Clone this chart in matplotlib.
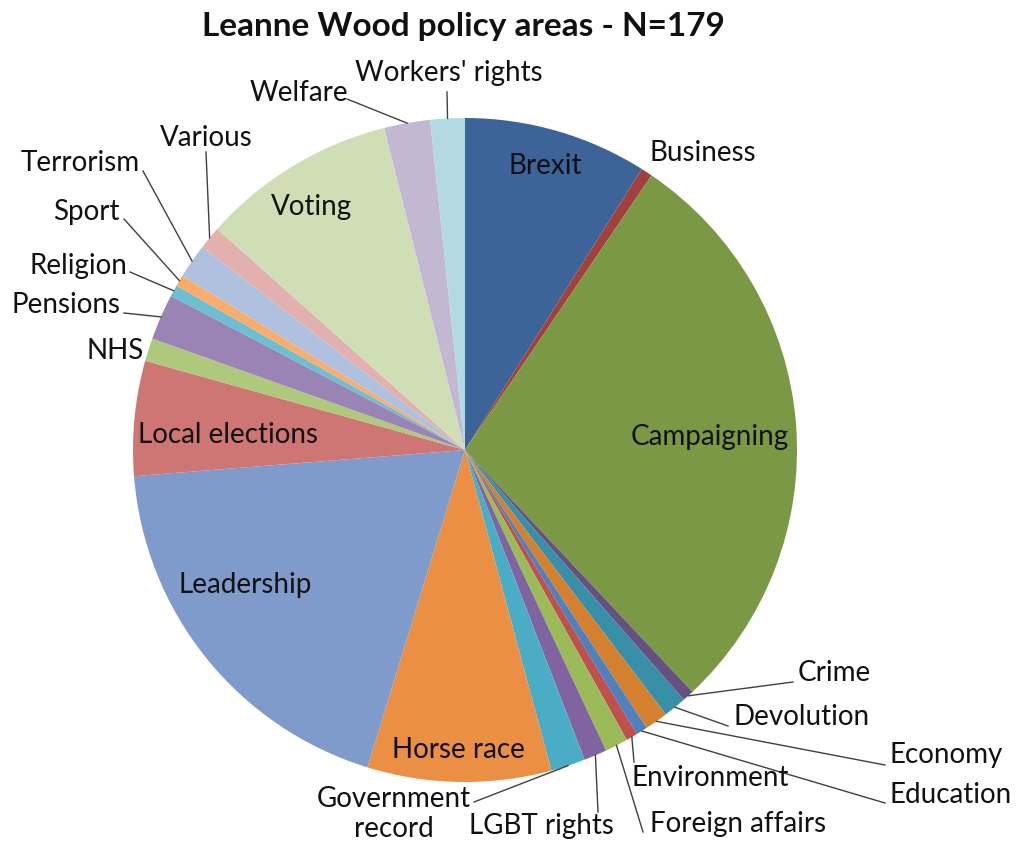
import numpy as np
import matplotlib
matplotlib.use("Agg")
import matplotlib.pyplot as plt

plt.rcParams['font.family'] = ['Lato', 'DejaVu Sans']

topics = ["Brexit", "Business", "Campaigning", "Crime", "Devolution", "Economy",
          "Education", "Environment", "Foreign affairs", "LGBT rights",
          "Government record", "Horse race", "Leadership", "Local elections",
          "NHS", "Pensions", "Religion", "Sport", "Terrorism", "Various",
          "Voting", "Welfare", "Workers' rights"]
counts = [16, 1, 51, 1, 2, 2, 1, 1, 2, 2, 3, 16, 34, 10, 2, 4, 1, 1, 3, 2, 17, 4, 3]
colors = ["#3D6498", "#A0413E", "#7B9945", "#65507F", "#3790A8", "#D4802F",
          "#4F81BD", "#C0504D", "#9BBB59", "#8064A2", "#4BACC6", "#EB8F45",
          "#7F9BCB", "#CD7674", "#AFC97C", "#9A84B6", "#6EBED2", "#F9AC6C",
          "#AFC1DE", "#E2B0AF", "#D0DEB5", "#C3B8D4", "#B3D9E3"]

W, H = 1024, 847
cx, cy, r = 465, H - 450, 332

fig = plt.figure(figsize=(W / 100, H / 100), dpi=100)
ax = fig.add_axes([0, 0, 1, 1])
wedges, _ = ax.pie(counts, colors=colors, startangle=90, counterclock=False,
                   center=(cx, cy), radius=r, wedgeprops=dict(linewidth=0))
ax.set_xlim(0, W)
ax.set_ylim(0, H)
ax.set_aspect('equal')
ax.axis('off')

fs = 20
# labels inside the big slices (pixel positions, y from top)
inside = {"Brexit": (545, 166), "Campaigning": (710, 437), "Horse race": (458, 750),
          "Leadership": (245, 585), "Local elections": (228, 435), "Voting": (311, 207)}
# outside labels: text anchor (x, y from top), alignment, elbow point of the leader line
outside = {
    "Business": ((650, 153), 'left', None),
    "Crime": ((798, 673), 'left', (793, 682)),
    "Devolution": ((733, 717), 'left', (728, 726)),
    "Economy": ((890, 755), 'left', (885, 765)),
    "Education": ((890, 795), 'left', (885, 803)),
    "Environment": ((631, 778), 'left', (634, 762)),
    "Foreign affairs": ((650, 824), 'left', (643, 832)),
    "LGBT rights": ((541, 826), 'center', (598, 812)),
    "Government record": ((394, 814), 'center', (474, 802)),
    "Workers' rights": ((449, 73), 'center', (447, 92)),
    "Welfare": ((299, 93), 'center', (347, 99)),
    "Various": ((206, 138), 'center', (206, 152)),
    "Terrorism": ((80, 163), 'center', (143, 171)),
    "Sport": ((86, 212), 'center', (124, 219)),
    "Religion": ((78, 266), 'center', (130, 272)),
    "Pensions": ((66, 305), 'center', (124, 313)),
    "NHS": ((115, 351), 'center', None),
}

for w, name in zip(wedges, topics):
    if name in inside:
        x, y = inside[name]
        ax.text(x, H - y, name, ha='center', va='center', fontsize=fs, color='#111111')
    elif name in outside:
        (x, y), ha, elbow = outside[name]
        label = "Government\nrecord" if name == "Government record" else name
        ax.text(x, H - y, label, ha=ha, va='center', fontsize=fs, color='#111111',
                linespacing=1.15)
        if elbow is not None:
            a = np.deg2rad((w.theta1 + w.theta2) / 2)
            ex, ey = cx + r * np.cos(a), cy + r * np.sin(a)
            ax.plot([ex, elbow[0]], [ey, H - elbow[1]], color='#404040', lw=1)

ax.text(463, H - 26, "Leanne Wood policy areas - N=179", ha='center', va='center',
        fontsize=24, fontweight='bold', color='#111111')

fig.savefig("out.png", dpi=100)
